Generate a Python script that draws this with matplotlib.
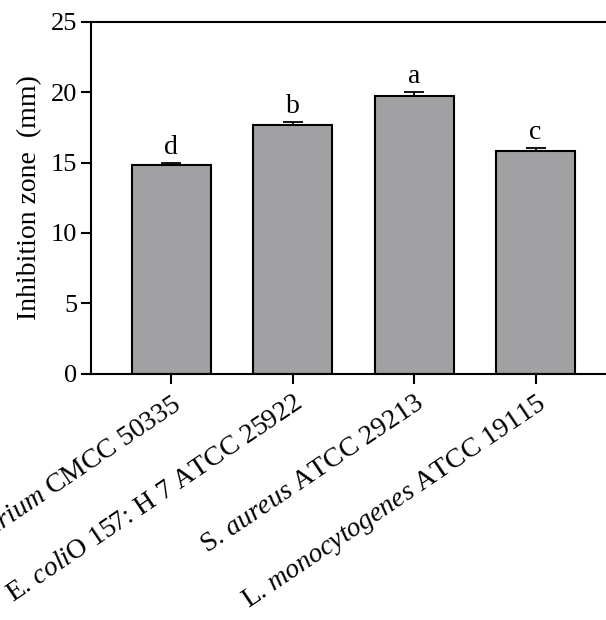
import matplotlib.pyplot as plt
import numpy as np

plt.rcParams['font.family'] = ['Liberation Serif', 'DejaVu Serif']
plt.rcParams['mathtext.fontset'] = 'custom'
plt.rcParams['mathtext.rm'] = 'Liberation Serif'
plt.rcParams['mathtext.it'] = 'Liberation Serif:italic'

strains = [r"S. $\mathit{typhimurium}$ CMCC 50335",
           r"E. $\mathit{coli}$O 157: H 7 ATCC 25922",
           r"S. $\mathit{aureus}$ ATCC 29213",
           r"L. $\mathit{monocytogenes}$ ATCC 19115"]
zone_mm = [14.8, 17.65, 19.7, 15.8]
zone_err = [0.15, 0.22, 0.32, 0.25]
letters = ["d", "b", "a", "c"]


def main():
    fig = plt.figure(figsize=(6.06, 6.20), dpi=100)
    # the original is cropped: the frame runs past the right edge
    ax = fig.add_axes([0.150, 0.397, 0.866, 0.568])

    x = np.arange(len(strains))
    ax.bar(x, zone_mm, width=0.65, color="#a1a1a4", edgecolor="black",
           linewidth=1.5, zorder=2)
    ax.errorbar(x, zone_mm, yerr=[np.zeros(len(zone_err)), zone_err],
                fmt="none", ecolor="black", elinewidth=1.3, capsize=7,
                capthick=1.3, zorder=3)
    for xi, v, e, s in zip(x, zone_mm, zone_err, letters):
        ax.text(xi, v + e + 0.2, s, ha="center", va="bottom", fontsize=20)

    ax.set_xlim(-0.66, 3.66)
    ax.set_ylim(0, 25)
    ax.set_yticks(range(0, 26, 5))
    ax.set_xticks(x)
    ax.set_xticklabels(strains, rotation=34, ha="right", va="top",
                       rotation_mode="anchor", fontsize=20)
    ax.tick_params(axis="y", labelsize=19, length=7, width=1.5, direction="out", pad=3)
    ax.tick_params(axis="x", length=7, width=1.5, direction="out", pad=5)
    ax.set_ylabel("Inhibition zone  (mm)", fontsize=20, labelpad=6)
    for sp in ax.spines.values():
        sp.set_linewidth(1.5)

    fig.savefig("out.png", dpi=100)


if __name__ == "__main__":
    main()
